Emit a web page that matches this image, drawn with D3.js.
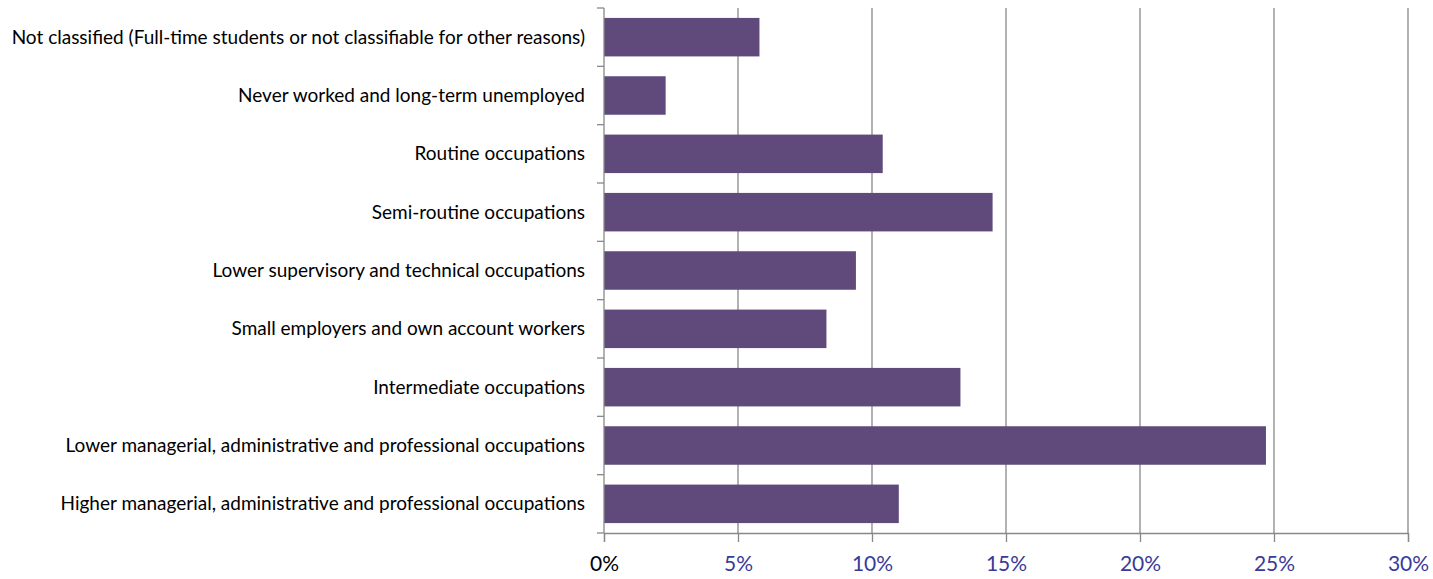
<!DOCTYPE html>
<html>
<head>
<meta charset="utf-8">
<script src="https://cdn.jsdelivr.net/npm/d3@7"></script>
<style>
  body { margin: 0; background: #fff; }
  svg text { font-family: Lato, "Open Sans", sans-serif; }
</style>
</head>
<body>
<div id="chart"></div>
<script>
var categories = [
    "Not classified (Full-time students or not classifiable for other reasons)",
    "Never worked and long-term unemployed",
    "Routine occupations",
    "Semi-routine occupations",
    "Lower supervisory and technical occupations",
    "Small employers and own account workers",
    "Intermediate occupations",
    "Lower managerial, administrative and professional occupations",
    "Higher managerial, administrative and professional occupations"
]
var values = [5.8, 2.3, 10.4, 14.5, 9.4, 8.3, 13.3, 24.7, 11.0]
var tickValues = [0, 5, 10, 15, 20, 25, 30]

var width = 1433, height = 579
var margin = {top: 8, right: 25, bottom: 46, left: 604}

var svg = d3.select("#chart").append("svg").attr("width", width).attr("height", height)

var x = d3.scaleLinear().domain([0, 30]).range([margin.left, width - margin.right])
var y = d3.scaleBand().domain(categories).range([margin.top, height - margin.bottom]).paddingInner(0.34).paddingOuter(0.17)

// gridlines
svg.selectAll(".grid").data(tickValues.slice(1)).enter().append("line")
    .attr("x1", function(d){ return x(d) }).attr("x2", function(d){ return x(d) })
    .attr("y1", margin.top).attr("y2", height - margin.bottom)
    .attr("stroke", "#888").attr("stroke-width", 1.3)

// bars
svg.selectAll(".bar").data(values).enter().append("rect")
    .attr("x", x(0))
    .attr("y", function(d, i){ return y(categories[i]) })
    .attr("width", function(d){ return x(d) - x(0) })
    .attr("height", y.bandwidth())
    .attr("fill", "#604a7b")

// bottom axis
var xAxis = svg.append("g").attr("transform", "translate(0," + (height - margin.bottom) + ")")
    .call(d3.axisBottom(x).tickValues(tickValues).tickFormat(function(d){ return d + "%" }).tickSize(9).tickPadding(14))
xAxis.select(".domain").attr("stroke", "#888").attr("stroke-width", 1.3)
xAxis.selectAll(".tick line").attr("stroke", "#888").attr("stroke-width", 1.3)
xAxis.selectAll(".tick text").attr("font-size", 21).attr("font-family", "Lato, sans-serif")
    .attr("fill", function(d){ return d === 0 ? "#000" : "#3a3a98" })

// left axis: ticks at band boundaries
var step = y.step()
var bounds = d3.range(categories.length + 1).map(function(i){ return margin.top + i * step })
svg.append("line").attr("x1", x(0)).attr("x2", x(0)).attr("y1", margin.top).attr("y2", height - margin.bottom)
    .attr("stroke", "#888").attr("stroke-width", 1.3)
svg.selectAll(".ytick").data(bounds).enter().append("line")
    .attr("x1", x(0) - 7).attr("x2", x(0))
    .attr("y1", function(d){ return d }).attr("y2", function(d){ return d })
    .attr("stroke", "#888").attr("stroke-width", 1.3)

svg.selectAll(".ylabel").data(categories).enter().append("text")
    .attr("x", x(0) - 19)
    .attr("y", function(d){ return y(d) + y.bandwidth() / 2 })
    .attr("dy", "0.35em")
    .attr("text-anchor", "end")
    .attr("font-size", 19)
    .attr("fill", "#000")
    .text(function(d){ return d })
</script>
</body>
</html>
